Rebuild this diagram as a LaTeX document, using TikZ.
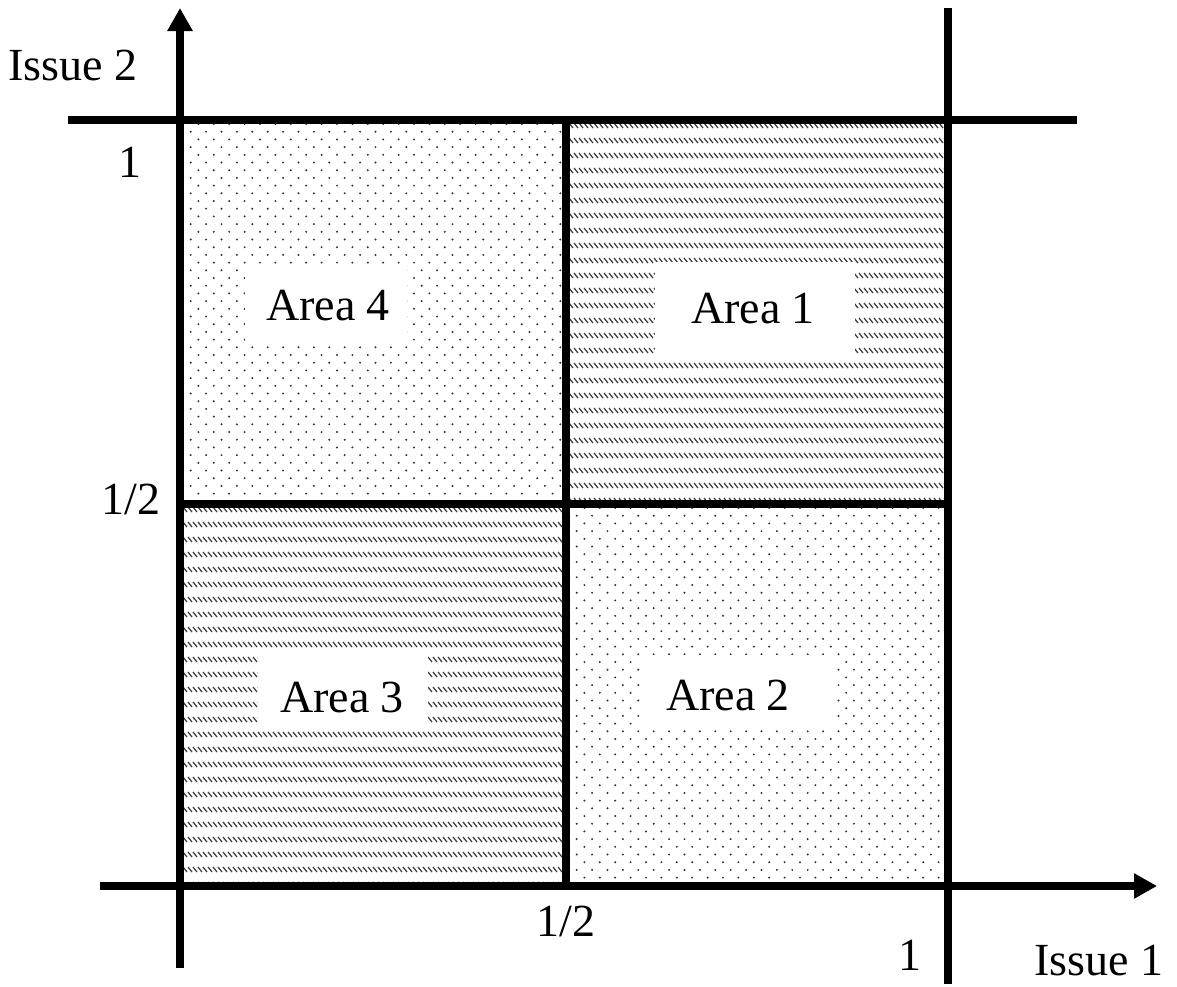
\documentclass[tikz,border=0pt]{standalone}
\usepackage{fontspec}
\setmainfont{Liberation Serif}
\usetikzlibrary{arrows.meta}
\tikzset{
 axisline/.style={line width=7.5pt, line cap=butt},
 axisarrow/.style={axisline, -{Triangle[length=23pt,width=24pt]}},
 lab/.style={font=\fontsize{46}{52}\selectfont, inner sep=0pt, anchor=base},
 whitebox/.style={fill=white, draw=none, inner sep=0pt},
 dotfill/.style={fill=black!80},
 hatchstroke/.style={draw=black!75, line width=1.3pt},
}
\newcommand\mydots[4]{%
 \begin{scope}
 \clip (#1,#2) rectangle (#3,#4);
 \fill[dotfill] \foreach \j in {0,...,52} { \foreach \i in {0,...,26} { ({#1+3+\i*15.4+mod(\j,2)*7.7}, {#2+4+\j*7.7}) circle (1.1pt) } };
 \end{scope}}
\newcommand\myhatch[4]{%
 \begin{scope}
 \clip (#1,#2) rectangle (#3,#4);
 \draw[hatchstroke] \foreach \j in {0,...,26} { \foreach \i in {0,...,80} { ({#1-2+\i*5}, {#2+3+\j*15}) -- ++(4,5) } };
 \end{scope}}
\begin{document}
\begin{tikzpicture}[x=1pt,y=-1pt]
\useasboundingbox (0,0) rectangle (1177,986);
% fills
\mydots{180}{120}{566}{504}
\myhatch{566}{120}{948}{504}
\myhatch{180}{504}{566}{886}
\mydots{566}{504}{948}{886}
% white label boxes
\node[whitebox, minimum width=200pt, minimum height=93pt] (box1) at (755,308.5) {};
\node[whitebox, minimum width=162pt, minimum height=77pt] (box4) at (326,303.5) {};
\node[whitebox, minimum width=170pt, minimum height=75pt] (box3) at (343,692.5) {};
\node[whitebox, minimum width=192pt, minimum height=75pt] (box2) at (741,692.5) {};
\node[lab] (a1) at (753,323) {Area 1};
\node[lab] (a4) at (328,320) {Area 4};
\node[lab] (a3) at (342,712) {Area 3};
\node[lab] (a2) at (728,710) {Area 2};
% lines
\coordinate (yb) at (180,968); \coordinate (yt) at (180,8);
\coordinate (xl) at (100,886); \coordinate (xr) at (1157,886);
\coordinate (tl) at (68,120); \coordinate (tr) at (1077,120);
\coordinate (rt) at (948,8); \coordinate (rb) at (948,984);
\coordinate (mt) at (566,120); \coordinate (mb) at (566,886);
\coordinate (ml) at (180,504); \coordinate (mr) at (948,504);
\draw[axisline] (tl) -- (tr);
\draw[axisline] (rt) -- (rb);
\draw[axisline] (mt) -- (mb);
\draw[axisline] (ml) -- (mr);
\draw[axisarrow] (yb) -- (yt);
\draw[axisarrow] (xl) -- (xr);
% axis labels
\node[lab] (issue2) at (73,80) {Issue 2};
\node[lab] (one2) at (130,177) {1};
\node[lab] (half2) at (131,514) {1/2};
\node[lab] (half1) at (566,936) {1/2};
\node[lab] (one1) at (910,970) {1};
\node[lab] (issue1) at (1099,975) {Issue 1};
\end{tikzpicture}
\end{document}
